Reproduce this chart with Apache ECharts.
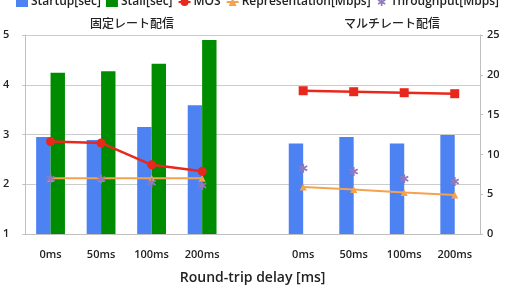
<!DOCTYPE html>
<html><head><meta charset="utf-8">
<script src="https://cdn.jsdelivr.net/npm/echarts@6/dist/echarts.min.js"></script>
<style>html,body{margin:0;padding:0;background:#fff}#c{width:506px;height:290px}</style>
</head><body><div id="c"></div>
<script>
const categories = ['0ms','50ms','100ms','200ms','','0ms','50ms','100ms','200ms'];
const groupTitles = ['固定レート配信','マルチレート配信'];
const startup = [2.95, 2.89, 3.15, 3.59, null, 2.82, 2.95, 2.82, 2.99];
const stall = [4.24, 4.27, 4.42, 4.90, null, null, null, null, null];
const mos = [2.86, 2.83, 2.39, 2.26, null, 3.88, 3.86, 3.84, 3.82];
const representation = [7.0, 7.0, 7.0, 7.0, null, 5.9, 5.6, 5.2, 4.9];
const throughput = [6.95, 6.9, 6.45, 6.1, null, 8.25, 7.85, 6.95, 6.6];
const leftTicks = {min:1, max:5, interval:1};
const rightTicks = {min:0, max:25, interval:5};

const FONT = '"Open Sans", "Liberation Sans", sans-serif';
const STAR = 'path://M-0.2,-1 L0.2,-1 L0.2,-0.35 L0.77,-0.67 L0.97,-0.33 L0.4,0 L0.97,0.33 L0.77,0.67 L0.2,0.35 L0.2,1 L-0.2,1 L-0.2,0.35 L-0.77,0.67 L-0.97,0.33 L-0.4,0 L-0.97,-0.33 L-0.77,-0.67 L-0.2,-0.35 Z';
const mosData = mos.map((v,i)=>({value:v, symbol: i<4 ? 'circle' : 'rect'}));

const chart = echarts.init(document.getElementById('c'));
chart.setOption({
  animation:false,
  textStyle:{fontFamily:FONT},
  title:[
    {text:groupTitles[0], left:127, top:12, textAlign:'center', textStyle:{fontSize:12, fontWeight:500, color:'#222', fontFamily:'"Noto Sans CJK JP", sans-serif'}},
    {text:groupTitles[1], left:387, top:12, textAlign:'center', textStyle:{fontSize:12, fontWeight:500, color:'#222', fontFamily:'"Noto Sans CJK JP", sans-serif'}}
  ],
  legend:{
    top:-4, left:16, width:500, padding:0, itemGap:5, itemWidth:12, itemHeight:10,
    textStyle:{fontSize:12, fontWeight:600, color:'#222', fontFamily:FONT, padding:[0,0,0,-2]},
    data:[
      {name:'Startup[sec]', icon:'rect'},
      {name:'Stall[sec]', icon:'rect'},
      {name:'MOS'},
      {name:'Representation[Mbps]'},
      {name:'Throughput[Mbps]'}
    ]
  },
  grid:{left:19, right:26, top:35, bottom:54},
  xAxis:{
    type:'category', data:categories,
    name:'Round-trip delay [ms]', nameLocation:'middle', nameGap:37,
    nameTextStyle:{fontSize:14, fontWeight:600, color:'#222', fontFamily:FONT},
    axisLine:{lineStyle:{color:'#c0c0c0'}},
    axisTick:{lineStyle:{color:'#c0c0c0'}, length:4},
    axisLabel:{fontSize:11, fontWeight:600, color:'#222', margin:15, interval:0}
  },
  yAxis:[
    {type:'value', min:leftTicks.min, max:leftTicks.max, interval:leftTicks.interval,
     axisLine:{show:true, lineStyle:{color:'#c0c0c0'}},
     axisTick:{show:true, length:3, lineStyle:{color:'#c0c0c0'}},
     splitLine:{lineStyle:{color:'#cccccc'}},
     axisLabel:{fontSize:11, fontWeight:600, color:'#222', margin:16}},
    {type:'value', min:rightTicks.min, max:rightTicks.max, interval:rightTicks.interval, position:'right',
     axisLine:{show:true, lineStyle:{color:'#c0c0c0'}},
     axisTick:{show:true, length:3, lineStyle:{color:'#c0c0c0'}},
     splitLine:{show:false},
     axisLabel:{fontSize:11, fontWeight:600, color:'#222', margin:7}}
  ],
  series:[
    {name:'Startup[sec]', type:'bar', yAxisIndex:0, data:startup, barGap:'0%', barCategoryGap:'43%', itemStyle:{color:'#4d82f2'}},
    {name:'Stall[sec]', type:'bar', yAxisIndex:0, data:stall, barGap:'0%', barCategoryGap:'43%', itemStyle:{color:'#008c00'}},
    {name:'MOS', type:'line', yAxisIndex:0, data:mosData, symbol:'circle', symbolSize:9, lineStyle:{color:'#e8281c', width:2.5}, itemStyle:{color:'#e8281c'}, z:5},
    {name:'Representation[Mbps]', type:'line', yAxisIndex:1, data:representation, symbol:'triangle', symbolSize:7, lineStyle:{color:'#f5a24e', width:2}, itemStyle:{color:'#f5a24e'}, z:4},
    {name:'Throughput[Mbps]', type:'line', yAxisIndex:1, data:throughput, symbol:STAR, symbolSize:9, lineStyle:{width:0, opacity:0}, itemStyle:{color:'#9079bd'}, z:6}
  ]
});
</script></body></html>
